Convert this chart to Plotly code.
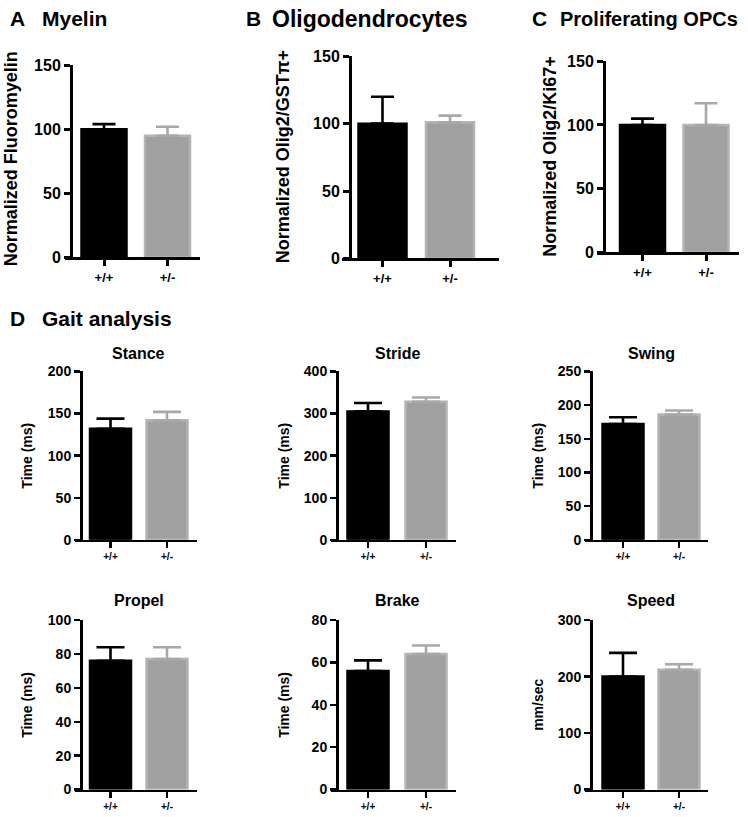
import plotly.graph_objects as go

W, H = 748, 817
SY = 1.012  # slight vertical stretch about y=360 (page pixels)

# ---------------- data ----------------
genotypes = ["+/+", "+/-"]

myelin_mean = [100, 95]
myelin_sem = [4, 7]
oligo_mean = [100, 101]
oligo_sem = [20, 5]
opc_mean = [100, 100]
opc_sem = [5, 17]

stance_mean = [132, 142]
stance_sem = [12, 10]
stride_mean = [305, 328]
stride_sem = [20, 10]
swing_mean = [172, 186]
swing_sem = [10, 6]
propel_mean = [76, 77]
propel_sem = [8, 7]
brake_mean = [56, 64]
brake_sem = [5, 4]
speed_mean = [200, 212]
speed_sem = [42, 10]

ticks_norm = [0, 50, 100, 150]
ticks_stance = [0, 50, 100, 150, 200]
ticks_stride = [0, 100, 200, 300, 400]
ticks_swing = [0, 50, 100, 150, 200, 250]
ticks_propel = [0, 20, 40, 60, 80, 100]
ticks_brake = [0, 20, 40, 60, 80]
ticks_speed = [0, 100, 200, 300]

# ---------------- styles ----------------
FONT = "Liberation Sans, Arial, sans-serif"
BLACK = "#000000"
GRAY_FILL = "#a0a0a0"
GRAY_LINE = "#b4b4b4"
GRAY_ERR = "#a8a8a8"

fig = go.Figure()


def px_x(v):
    return v / W


def px_y(v):
    return 1 - (360 + (v - 360) * SY) / H


def add_panel(i, means, sems, tickvals, ytitle, g, big):
    s = g["c1"] - g["c0"]
    r0 = -(g["c0"] - g["L"]) / s
    r1 = 1 + (g["R"] - g["c1"]) / s
    bw = g["bw"] / s
    lw = 3 if big else 2.5
    cap = 11.5 if big else 14
    xa = f"x{i}"
    ya = f"y{i}"
    colors = [(BLACK, BLACK, BLACK), (GRAY_FILL, GRAY_LINE, GRAY_ERR)]
    for k in range(2):
        fill, line, err = colors[k]
        fig.add_trace(go.Bar(
            x=[genotypes[k]], y=[means[k]], width=bw,
            marker=dict(color=fill, line=dict(color=line, width=2.5)),
            error_y=dict(type="data", array=[sems[k]], arrayminus=[0],
                         symmetric=False, color=err, thickness=2.6, width=cap),
            xaxis=xa, yaxis=ya, showlegend=False, hoverinfo="skip",
        ))
    tfs = 16 if big else 14
    xfs = 13 if big else 10
    fig.update_layout(**{
        f"xaxis{i}": dict(
            domain=[px_x(g["L"]), px_x(g["R"])], anchor=ya,
            type="category", categoryorder="array", categoryarray=genotypes,
            range=[r0, r1], showline=True, linecolor=BLACK, linewidth=lw,
            ticks="outside", ticklen=6, tickwidth=lw, tickcolor=BLACK,
            showgrid=False, zeroline=False, fixedrange=True,
            tickfont=dict(family=FONT, size=xfs, color=BLACK, weight="bold"),
        ),
        f"yaxis{i}": dict(
            domain=[px_y(g["zero"]), px_y(g["top"])], anchor="free",
            position=px_x(g["yax"]), range=[0, tickvals[-1]],
            tickvals=tickvals, showline=True, linecolor=BLACK, linewidth=lw,
            ticks="outside", ticklen=6, tickwidth=lw, tickcolor=BLACK,
            showgrid=False, zeroline=False, fixedrange=True,
            tickfont=dict(family=FONT, size=tfs, color=BLACK, weight="bold"),
        ),
    })
    fig.add_annotation(
        x=px_x(g["tx"]), y=px_y((g["top"] + g["zero"]) / 2 + g.get("tdy", 0)),
        xref="paper", yref="paper", text=ytitle, textangle=-90,
        showarrow=False, xanchor="center", yanchor="middle",
        font=dict(family=FONT, size=18 if big else 14, color=BLACK, weight="bold"),
    )
    if "title" in g:
        fig.add_annotation(
            x=px_x((g["c0"] + g["c1"]) / 2), y=px_y(g["title_y"]),
            xref="paper", yref="paper", text=g["title"], showarrow=False,
            xanchor="center", yanchor="middle",
            font=dict(family=FONT, size=16, color=BLACK, weight="bold"),
        )


# ---------- geometry (page pixels) ----------
gA = dict(yax=71, L=65, R=200, c0=104, c1=167.5, bw=45, top=62, zero=256, tx=11, tdy=-2)
gB = dict(yax=350, L=342, R=499, c0=382.5, c1=450, bw=48, top=53, zero=257, tx=283)
gC = dict(yax=604, L=597, R=739, c0=642.5, c1=706, bw=45, top=58, zero=251, tx=550)

row1 = dict(top=371, zero=541, title_y=353)
row2 = dict(top=622, zero=793, title_y=602)
col1 = dict(yax=81, L=75, R=197, c0=110.5, c1=167, bw=41, tx=27)
col2 = dict(yax=337, L=331, R=456, c0=368, c1=426, bw=41, tx=284)
col3 = dict(yax=591, L=585, R=708, c0=623, c1=679, bw=41, tx=538)

add_panel(1, myelin_mean, myelin_sem, ticks_norm, "Normalized Fluoromyelin", gA, True)
add_panel(2, oligo_mean, oligo_sem, ticks_norm, "Normalized Olig2/GSTπ+", gB, True)
add_panel(3, opc_mean, opc_sem, ticks_norm, "Normalized Olig2/Ki67+", gC, True)
add_panel(4, stance_mean, stance_sem, ticks_stance, "Time (ms)", {**col1, **row1, "title": "Stance"}, False)
add_panel(5, stride_mean, stride_sem, ticks_stride, "Time (ms)", {**col2, **row1, "title": "Stride"}, False)
add_panel(6, swing_mean, swing_sem, ticks_swing, "Time (ms)", {**col3, **row1, "title": "Swing"}, False)
add_panel(7, propel_mean, propel_sem, ticks_propel, "Time (ms)", {**col1, **row2, "title": "Propel"}, False)
add_panel(8, brake_mean, brake_sem, ticks_brake, "Time (ms)", {**col2, **row2, "title": "Brake"}, False)
add_panel(9, speed_mean, speed_sem, ticks_speed, "mm/sec", {**col3, **row2, "title": "Speed"}, False)

headers = [("A", 8, 40, 15, "Myelin", 21), ("B", 244, 270, 15, "Oligodendrocytes", 23),
           ("C", 530, 558, 15, "Proliferating OPCs", 20), ("D", 8, 40, 318, "Gait analysis", 21)]
for letter, lx, tx, yy, txt, fs in headers:
    fig.add_annotation(x=px_x(lx), y=px_y(yy), xref="paper", yref="paper", text=letter,
                       showarrow=False, xanchor="left", yanchor="middle",
                       font=dict(family=FONT, size=21, color=BLACK, weight="bold"))
    fig.add_annotation(x=px_x(tx), y=px_y(yy), xref="paper", yref="paper", text=txt,
                       showarrow=False, xanchor="left", yanchor="middle",
                       font=dict(family=FONT, size=fs, color=BLACK, weight="bold"))

fig.update_layout(
    width=W, height=H, autosize=False,
    margin=dict(l=0, r=0, t=0, b=0),
    paper_bgcolor="white", plot_bgcolor="white",
    barmode="overlay", showlegend=False,
)

fig.write_html("out.html", config={"displayModeBar": False, "staticPlot": True},
               post_script="document.body.style.margin='0px';")
